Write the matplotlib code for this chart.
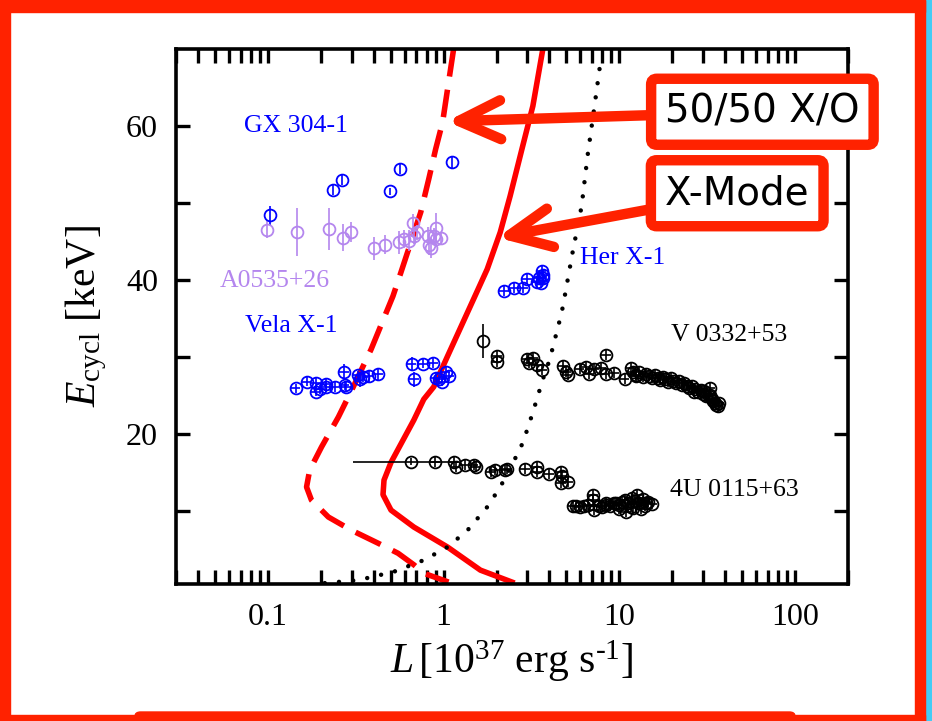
import matplotlib.pyplot as plt
from matplotlib.patches import Rectangle, FancyBboxPatch
from matplotlib.ticker import LogLocator, NullFormatter

# cyclotron line energy vs luminosity, with model curves
xo_L = [1.14, 1.053, 0.987, 0.901, 0.823, 0.741, 0.651, 0.572, 0.515, 0.387, 0.306,
        0.252, 0.202, 0.173, 0.166, 0.177, 0.221, 0.298, 0.424, 0.550, 0.677, 0.771, 1.067]
xo_E = [70.0, 64.8, 60.5, 57.0, 53.1, 48.8, 44.9, 41.0, 37.9, 31.0, 26.1,
        22.2, 18.3, 15.3, 13.1, 11.4, 9.2, 7.5, 5.8, 4.5, 3.0, 1.9, 0.75]

xmode_L = [3.67, 3.22, 2.79, 2.39, 2.10, 1.77, 1.48, 1.053, 0.878, 0.771, 0.677,
           0.502, 0.458, 0.452, 0.502, 0.677, 1.053, 1.62, 2.45]
xmode_E = [70.0, 62.6, 57.0, 50.9, 46.2, 41.4, 37.5, 30.1, 26.1, 24.5, 21.8,
           16.3, 14.0, 12.1, 10.1, 7.9, 5.3, 2.3, 0.75]

dot_L = [7.71, 7.22, 6.59, 6.10, 5.42, 4.89, 4.70, 4.02, 3.67, 3.22, 2.83, 2.49,
         2.10, 1.77, 1.37, 1.053, 0.771, 0.522, 0.327, 0.184]
dot_E = [67.4, 62.6, 56.1, 49.6, 43.6, 37.9, 35.8, 29.7, 27.1, 22.8, 18.9, 16.3,
         13.1, 10.5, 7.5, 5.3, 3.6, 2.1, 1.0, 0.5]

gx_L = [0.103, 0.235, 0.264, 0.497, 0.562, 1.12]
gx_E = [48.4, 51.7, 53.0, 51.5, 54.4, 55.3]
gx_err = [1.2, 0.6, 0.7, 0.5, 0.7, 0.7]

a0535_L = [0.0995, 0.146, 0.222, 0.269, 0.298, 0.404, 0.465, 0.555, 0.594, 0.634,
           0.668, 0.680, 0.710, 0.810, 0.826, 0.845, 0.880, 0.900, 0.900, 0.970]
a0535_E = [46.5, 46.2, 46.6, 45.5, 46.2, 44.1, 44.6, 44.9, 45.3, 45.1,
           47.4, 45.7, 46.2, 45.7, 44.6, 44.2, 45.7, 46.8, 45.3, 45.4]
a0535_err = [1.1, 3.1, 2.7, 1.8, 1.3, 1.5, 1.2, 1.5, 1.2, 1.4,
             1.2, 1.0, 1.0, 1.2, 1.4, 1.3, 1.0, 1.9, 1.0, 0.8]

vela_L = [0.144, 0.166, 0.187, 0.189, 0.198, 0.213, 0.215, 0.240, 0.271, 0.273,
          0.280, 0.325, 0.336, 0.347, 0.376, 0.425, 0.657, 0.759, 0.875, 0.680,
          0.900, 0.940, 0.980, 1.026, 1.07]
vela_E = [25.9, 26.8, 26.6, 25.5, 25.8, 26.5, 26.1, 26.1, 28.1, 26.3,
          26.1, 27.6, 27.1, 27.4, 27.5, 27.8, 29.1, 29.1, 29.2, 27.1,
          27.3, 27.1, 26.8, 28.0, 27.5]
vela_err = [0.6, 0.6, 0.6, 0.6, 0.6, 0.6, 0.6, 0.6, 1.0, 0.6,
            0.6, 0.6, 1.0, 0.6, 0.8, 0.8, 0.9, 0.6, 0.6, 1.0,
            0.6, 0.6, 0.6, 0.8, 0.6]

her_L = [2.21, 2.52, 2.82, 2.99, 3.38, 3.50, 3.61, 3.69, 3.66, 3.57]
her_E = [38.6, 38.9, 39.0, 40.1, 39.7, 40.2, 41.2, 40.7, 40.2, 39.6]

v0332_L = [1.67, 2.01, 2.00, 2.97, 3.24, 3.07, 3.41, 3.64, 4.78, 5.00, 5.08, 5.94,
           6.47, 6.76, 7.20, 7.88, 8.34, 8.41, 9.37, 10.7, 11.6, 12.4,
           11.9, 12.5, 13.0, 13.6, 14.2, 14.8, 15.3, 15.9, 16.5, 17.0, 17.6, 18.3,
           19.0, 19.6, 20.3, 21.0, 21.8, 22.6, 23.4, 24.2, 25.0, 26.0, 26.5, 27.1,
           28.0, 29.0, 30.1, 30.5, 31.0, 32.2, 32.9, 33.0, 33.5, 34.2, 35.0, 35.5,
           36.2, 36.8]
v0332_E = [32.1, 30.1, 29.4, 29.75, 29.9, 29.2, 29.0, 28.3, 28.8, 28.0, 27.7, 28.4,
           28.7, 27.8, 28.4, 28.6, 27.8, 30.3, 27.9, 27.1, 28.5, 27.5,
           28.0, 27.6, 28.1, 27.4, 27.8, 27.5, 27.2, 27.6, 27.3, 27.0, 27.4, 27.1,
           26.8, 27.2, 26.9, 26.6, 26.9, 26.4, 26.6, 26.2, 25.9, 26.2, 25.5, 25.8,
           25.4, 25.7, 25.2, 25.6, 24.9, 24.9, 26.0, 25.1, 24.5, 24.3, 24.0, 23.8,
           23.6, 24.0]

u0115_L = [0.65, 0.89, 1.14, 1.17, 1.33, 1.48, 1.52, 1.86, 1.97, 2.24, 2.29, 2.90,
           3.41, 3.41, 3.98, 4.68, 4.74, 4.68, 5.10,
           5.45, 6.30, 7.06, 7.06, 7.20, 7.70, 8.40, 9.37, 8.40, 9.60, 10.7, 10.9,
           11.8, 12.6, 12.9, 14.1, 15.4, 13.2, 11.6,
           5.7, 6.0, 6.6, 8.0, 8.8, 9.9, 10.3, 11.2, 12.2, 13.6, 14.6, 13.9, 12.0, 10.0]
u0115_E = [16.4, 16.4, 16.3, 15.7, 15.9, 15.9, 15.7, 15.1, 15.25, 15.25, 15.4, 15.4,
           15.7, 15.0, 14.8, 15.1, 14.5, 13.6, 13.8,
           10.65, 10.65, 12.1, 11.4, 10.1, 10.65, 10.8, 11.0, 11.0, 11.0, 11.4, 9.9,
           11.7, 12.1, 11.0, 11.0, 10.9, 10.3, 10.5,
           10.6, 10.5, 10.7, 10.5, 10.6, 10.8, 11.2, 11.0, 11.3, 11.5, 11.2, 10.6, 10.4, 10.2]

REL_XERR = 0.065
YERR = 0.65
FRAME_RED = '#ff2200'
BLUE = '#0000ff'
LAVENDER = '#b486ee'
MS = 8.5
MEW = 1.3

plt.rcParams['font.family'] = 'Liberation Serif'
plt.rcParams['mathtext.fontset'] = 'custom'
plt.rcParams['mathtext.rm'] = 'Liberation Serif'
plt.rcParams['mathtext.it'] = 'Liberation Serif:italic'

fig = plt.figure(figsize=(9.32, 7.21), dpi=100)
ax = fig.add_axes([0.1888, 0.19, 0.7211, 0.742])

# model curves
ax.plot(xo_L, xo_E, color='red', lw=4.0, ls=(0, (5, 2.4)), zorder=2)
ax.plot(xmode_L, xmode_E, color='red', lw=4.0, zorder=2)
ax.plot(dot_L, dot_E, color='black', lw=3.2, ls=(0, (0.01, 3.2)),
        dash_capstyle='round', zorder=2)


def draw_source(L, E, color, yerr, xerr=True):
    xe = [REL_XERR * v for v in L] if xerr else None
    ax.errorbar(L, E, yerr=yerr, xerr=xe, fmt='o', ms=MS, mfc='none', mec=color,
                mew=MEW, ecolor=color, elinewidth=1.2, capsize=0, zorder=3)


draw_source(gx_L, gx_E, BLUE, gx_err, xerr=False)
draw_source(a0535_L, a0535_E, LAVENDER, a0535_err, xerr=False)
draw_source(vela_L, vela_E, BLUE, vela_err)
draw_source(her_L, her_E, BLUE, YERR)
draw_source(v0332_L[1:], v0332_E[1:], 'black', YERR)
draw_source(u0115_L[1:], u0115_E[1:], 'black', YERR)

# points with long error bars
ax.errorbar([v0332_L[0]], [v0332_E[0]], yerr=2.2, fmt='o', ms=MS, mfc='none',
            mec='black', mew=MEW, ecolor='black', elinewidth=1.2, zorder=3)
ax.errorbar([u0115_L[0]], [u0115_E[0]], xerr=[[0.345], [0.55]], yerr=0.5, fmt='o',
            ms=MS, mfc='none', mec='black', mew=MEW, ecolor='black', elinewidth=1.2,
            zorder=3)

ax.set_xscale('log')
ax.set_xlim(0.03, 200)
ax.set_ylim(0.5, 70)
ax.set_xticks([0.1, 1, 10, 100])
ax.set_xticklabels(['0.1', '1', '10', '100'])
ax.xaxis.set_minor_locator(LogLocator(base=10, subs=range(2, 10)))
ax.xaxis.set_minor_formatter(NullFormatter())
ax.set_yticks([20, 40, 60])
ax.set_yticks([10, 30, 50], minor=True)
ax.tick_params(which='both', direction='in', top=True, right=True, length=10,
               width=2.4, labelsize=23)
ax.tick_params(axis='x', pad=14)
ax.tick_params(axis='y', pad=13)
for sp in ax.spines.values():
    sp.set_linewidth(2.6)

ax.set_xlabel(r'$L\,[10^{37}$ erg s$^{\text{-}1}]$', fontsize=30, labelpad=4)
ax.set_ylabel(r'$E_{\rm cycl}$ [keV]', fontsize=30, labelpad=12)

# source names
ax.text(0.0731, 60.0, 'GX 304-1', color=BLUE, fontsize=18.5, va='center')
ax.text(0.0529, 39.8, 'A0535+26', color=LAVENDER, fontsize=18.5, va='center')
ax.text(0.0741, 34.0, 'Vela X-1', color=BLUE, fontsize=18.5, va='center')
ax.text(5.94, 42.9, 'Her X-1', color=BLUE, fontsize=18.5, va='center')
ax.text(19.7, 32.8, 'V 0332+53', color='black', fontsize=18.5, va='center')
ax.text(19.4, 12.7, '4U 0115+63', color='black', fontsize=18.5, va='center')

# callouts
box = dict(boxstyle='round,pad=0.36,rounding_size=0.15', fc='white',
           ec=FRAME_RED, lw=7.5)
arrow = dict(arrowstyle='->,head_length=1.5,head_width=0.7', color=FRAME_RED,
             lw=7.5, shrinkA=0, shrinkB=0, mutation_scale=20, capstyle='round',
             joinstyle='round')
ax.annotate('50/50 X/O', xy=(1.04, 60.6), xycoords='data', xytext=(0.818, 0.845),
            textcoords='figure fraction', ha='center', va='center', fontsize=28,
            family='DejaVu Sans', bbox=box, arrowprops=arrow, zorder=6,
            annotation_clip=False)
ax.annotate('X-Mode', xy=(2.02, 45.5), xycoords='data', xytext=(0.791, 0.732),
            textcoords='figure fraction', ha='center', va='center', fontsize=28,
            family='DejaVu Sans', bbox=box, arrowprops=arrow, zorder=6,
            annotation_clip=False)

# slide frame
W, H = 932.0, 721.0
frame = [
    Rectangle((925 / W, 0), 7 / W, 1, color='#44ccf5'),
    Rectangle((0, 0), 10 / W, 1, color=FRAME_RED),
    Rectangle((0, 1 - 12 / H), 925 / W, 12 / H, color=FRAME_RED),
    Rectangle((915 / W, 0), 10 / W, 1, color=FRAME_RED),
    Rectangle((0, 0), 925 / W, 6 / H, color=FRAME_RED),
    FancyBboxPatch((135 / W, -0.01), 660 / W, 0.01 + 9 / H,
                   boxstyle='round,pad=0,rounding_size=0.006', color=FRAME_RED),
]
for p in frame:
    p.set_transform(fig.transFigure)
    fig.add_artist(p)

fig.savefig('out.png', dpi=100)
